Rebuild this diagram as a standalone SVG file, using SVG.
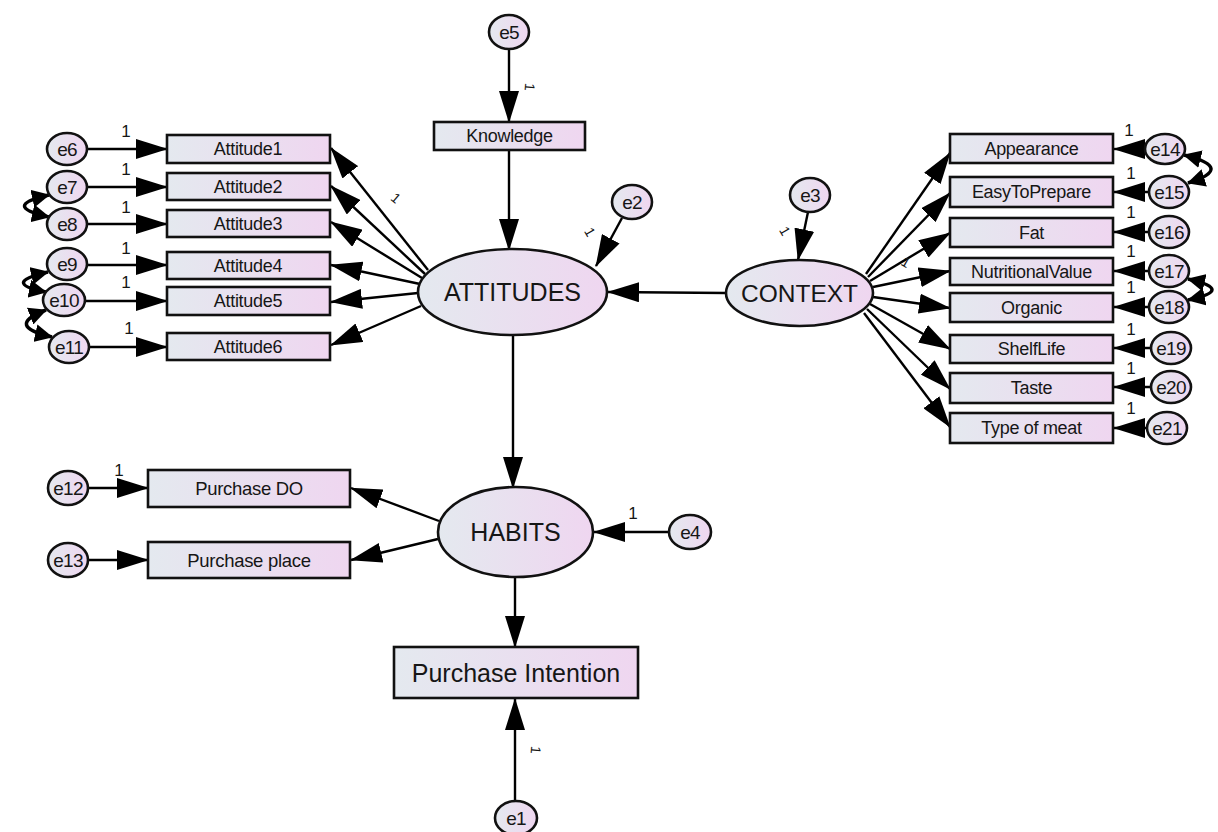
<svg xmlns="http://www.w3.org/2000/svg" width="1218" height="832" viewBox="0 0 1218 832">
<defs>
<linearGradient id="g" x1="0" y1="0" x2="1" y2="0">
<stop offset="0" stop-color="#e4e9ef"/>
<stop offset="1" stop-color="#efd6f0"/>
</linearGradient>
<marker id="ah" viewBox="0 0 32 20" refX="31" refY="10" markerWidth="32" markerHeight="20" markerUnits="userSpaceOnUse" orient="auto">
<path d="M0,0 L32,10 L0,20 Z" fill="#000"/>
</marker>
<marker id="ahs" viewBox="0 0 18 18" refX="17" refY="9" markerWidth="18" markerHeight="18" markerUnits="userSpaceOnUse" orient="auto-start-reverse">
<path d="M0,0 L18,9 L0,18 Z" fill="#000"/>
</marker>
</defs>
<style>
rect, ellipse { fill: url(#g); stroke: #111; stroke-width: 2.6; }
text { font-family: "Liberation Sans", Arial, sans-serif; fill: #161616; text-anchor: middle; dominant-baseline: central; }
.v { font-size: 18px; letter-spacing: -0.3px; }
.l { font-size: 25px; }
.e { font-size: 19px; letter-spacing: -0.8px; }
.one { font-size: 17px; }
.sm { font-size: 14px; }
.c line, .c path { stroke: #000; stroke-width: 2.4; fill: none; }
.c line { marker-end: url(#ah); }
.c path.cov { marker-start: url(#ahs); marker-end: url(#ahs); stroke-width: 3.5; }
</style>
<rect x="0" y="0" width="1218" height="832" fill="#fff" style="fill:#fff;stroke:none"/>

<g id="connectors" class="c">
<line x1="87" y1="149" x2="167" y2="149"/>
<line x1="87" y1="187" x2="167" y2="187"/>
<line x1="87" y1="224" x2="167" y2="224"/>
<line x1="87" y1="265" x2="167" y2="265"/>
<line x1="86" y1="301" x2="167" y2="301"/>
<line x1="89" y1="347" x2="167" y2="347"/>
<line x1="428" y1="270" x2="331" y2="148"/>
<line x1="425" y1="274" x2="331" y2="186"/>
<line x1="422" y1="278" x2="331" y2="222"/>
<line x1="420" y1="284" x2="331" y2="265"/>
<line x1="418" y1="293" x2="331" y2="302"/>
<line x1="421" y1="306" x2="331" y2="345"/>
<line x1="509" y1="50" x2="509" y2="122"/>
<line x1="509" y1="150" x2="509" y2="250"/>
<line x1="622" y1="218" x2="596" y2="266"/>
<line x1="726" y1="293" x2="608" y2="292"/>
<line x1="808" y1="212" x2="798" y2="260"/>
<line x1="866" y1="274" x2="950" y2="153"/>
<line x1="868" y1="277" x2="950" y2="193"/>
<line x1="870" y1="281" x2="950" y2="233"/>
<line x1="873" y1="287" x2="950" y2="271"/>
<line x1="873" y1="297" x2="950" y2="308"/>
<line x1="870" y1="304" x2="950" y2="349"/>
<line x1="867" y1="309" x2="950" y2="389"/>
<line x1="864" y1="313" x2="950" y2="427"/>
<line x1="1145" y1="149" x2="1114" y2="149"/>
<line x1="1149" y1="192" x2="1114" y2="192"/>
<line x1="1149" y1="232" x2="1114" y2="232"/>
<line x1="1149" y1="271" x2="1114" y2="271"/>
<line x1="1149" y1="307" x2="1114" y2="307"/>
<line x1="1151" y1="348" x2="1114" y2="348"/>
<line x1="1151" y1="387" x2="1114" y2="387"/>
<line x1="1147" y1="428" x2="1114" y2="428"/>
<line x1="513" y1="335" x2="513" y2="488"/>
<line x1="439" y1="521" x2="351" y2="488"/>
<line x1="438" y1="539" x2="351" y2="560"/>
<line x1="669" y1="532" x2="594" y2="532"/>
<line x1="88" y1="488" x2="148" y2="488"/>
<line x1="88" y1="560" x2="148" y2="560"/>
<line x1="515" y1="577" x2="515" y2="647"/>
<line x1="515" y1="802" x2="515" y2="699"/>
<path class="cov" d="M49,195 Q0,206 49,217"/>
<path class="cov" d="M48,272 Q0,283 46,292"/>
<path class="cov" d="M46,310 Q4,326 52,337"/>
<path class="cov" d="M1184,155 Q1236,168 1188,183"/>
<path class="cov" d="M1188,279 Q1236,290 1188,300"/>
</g>

<g id="attitude1"><rect x="167" y="135" width="163" height="28"/><text class="v" x="248" y="149">Attitude1</text></g>
<g id="attitude2"><rect x="167" y="173" width="163" height="27"/><text class="v" x="248" y="186.5">Attitude2</text></g>
<g id="attitude3"><rect x="167" y="210" width="163" height="27"/><text class="v" x="248" y="223.5">Attitude3</text></g>
<g id="attitude4"><rect x="167" y="252" width="163" height="27"/><text class="v" x="248" y="265.5">Attitude4</text></g>
<g id="attitude5"><rect x="167" y="287" width="163" height="28"/><text class="v" x="248" y="301">Attitude5</text></g>
<g id="attitude6"><rect x="167" y="333" width="163" height="27"/><text class="v" x="248" y="346.5">Attitude6</text></g>

<g id="e6"><ellipse cx="67" cy="149" rx="20" ry="16"/><text class="e" x="67" y="149">e6</text></g>
<g id="e7"><ellipse cx="67" cy="187" rx="20" ry="16"/><text class="e" x="67" y="187">e7</text></g>
<g id="e8"><ellipse cx="67" cy="224" rx="20" ry="16"/><text class="e" x="67" y="224">e8</text></g>
<g id="e9"><ellipse cx="67" cy="264" rx="20" ry="16"/><text class="e" x="67" y="264">e9</text></g>
<g id="e10"><ellipse cx="64" cy="300" rx="21" ry="16"/><text class="e" x="64" y="300">e10</text></g>
<g id="e11"><ellipse cx="69" cy="347" rx="20" ry="16"/><text class="e" x="69" y="347">e11</text></g>

<g id="labels-left">
<text class="one" x="126" y="131">1</text>
<text class="one" x="126" y="169">1</text>
<text class="one" x="126" y="207">1</text>
<text class="one" x="126" y="248">1</text>
<text class="one" x="126" y="282">1</text>
<text class="one" x="129" y="328">1</text>
<text class="sm" x="396" y="198" transform="rotate(40 396 198)">1</text>
</g>

<g id="e5"><ellipse cx="509" cy="32" rx="20" ry="17"/><text class="e" x="509" y="32">e5</text></g>
<text class="sm" x="530" y="87" transform="rotate(95 530 87)">1</text>
<g id="knowledge"><rect x="434" y="122" width="151" height="28"/><text class="v" x="509.5" y="136">Knowledge</text></g>

<g id="attitudes"><ellipse cx="512.5" cy="292" rx="94.5" ry="43"/><text class="l" x="512.5" y="292">ATTITUDES</text></g>
<g id="e2"><ellipse cx="632" cy="202" rx="20" ry="17"/><text class="e" x="632" y="202">e2</text></g>
<text class="sm" x="590" y="232" transform="rotate(60 590 232)">1</text>

<g id="context"><ellipse cx="799.5" cy="293" rx="73.5" ry="33"/><text class="l" x="799.5" y="293" style="font-size:24.5px">CONTEXT</text></g>
<g id="e3"><ellipse cx="810" cy="195" rx="20" ry="17"/><text class="e" x="810" y="195">e3</text></g>
<text class="sm" x="785" y="231" transform="rotate(60 785 231)">1</text>
<text class="sm" x="906" y="262" transform="rotate(30 906 262)">1</text>

<g id="appearance"><rect x="950" y="134" width="163" height="29"/><text class="v" x="1031.5" y="148.5">Appearance</text></g>
<g id="easytoprepare"><rect x="950" y="177" width="163" height="30"/><text class="v" x="1031.5" y="192">EasyToPrepare</text></g>
<g id="fat"><rect x="950" y="218" width="163" height="29"/><text class="v" x="1031.5" y="232.5">Fat</text></g>
<g id="nutritionalvalue"><rect x="950" y="258" width="163" height="27"/><text class="v" x="1031.5" y="271.5">NutritionalValue</text></g>
<g id="organic"><rect x="950" y="293" width="163" height="29"/><text class="v" x="1031.5" y="307.5">Organic</text></g>
<g id="shelflife"><rect x="950" y="335" width="163" height="28"/><text class="v" x="1031.5" y="349">ShelfLife</text></g>
<g id="taste"><rect x="950" y="373" width="163" height="30"/><text class="v" x="1031.5" y="388">Taste</text></g>
<g id="typeofmeat"><rect x="950" y="413" width="163" height="30"/><text class="v" x="1031.5" y="428">Type of meat</text></g>

<g id="e14"><ellipse cx="1165" cy="149" rx="20" ry="15"/><text class="e" x="1165" y="149">e14</text></g>
<g id="e15"><ellipse cx="1169" cy="192" rx="20" ry="16"/><text class="e" x="1169" y="192">e15</text></g>
<g id="e16"><ellipse cx="1169" cy="232" rx="20" ry="16"/><text class="e" x="1169" y="232">e16</text></g>
<g id="e17"><ellipse cx="1169" cy="271" rx="20" ry="16"/><text class="e" x="1169" y="271">e17</text></g>
<g id="e18"><ellipse cx="1169" cy="307" rx="20" ry="16"/><text class="e" x="1169" y="307">e18</text></g>
<g id="e19"><ellipse cx="1171" cy="348" rx="20" ry="16"/><text class="e" x="1171" y="348">e19</text></g>
<g id="e20"><ellipse cx="1171" cy="387" rx="20" ry="16"/><text class="e" x="1171" y="387">e20</text></g>
<g id="e21"><ellipse cx="1167" cy="428" rx="20" ry="16"/><text class="e" x="1167" y="428">e21</text></g>

<g id="labels-right">
<text class="one" x="1129" y="130">1</text>
<text class="one" x="1131" y="173">1</text>
<text class="one" x="1131" y="212">1</text>
<text class="one" x="1131" y="251">1</text>
<text class="one" x="1131" y="287">1</text>
<text class="one" x="1131" y="329">1</text>
<text class="one" x="1131" y="368">1</text>
<text class="one" x="1131" y="408">1</text>
</g>

<g id="habits"><ellipse cx="515.5" cy="532" rx="77.5" ry="45"/><text class="l" x="515.5" y="532">HABITS</text></g>
<g id="e4"><ellipse cx="690" cy="532" rx="21" ry="17"/><text class="e" x="690" y="532">e4</text></g>
<text class="one" x="633" y="513">1</text>

<g id="purchasedo"><rect x="148" y="470" width="202" height="37"/><text class="v" x="249" y="488.5" style="font-size:18.5px">Purchase DO</text></g>
<g id="purchaseplace"><rect x="148" y="542" width="202" height="36"/><text class="v" x="249" y="560" style="font-size:18.5px">Purchase place</text></g>
<g id="e12"><ellipse cx="68" cy="488" rx="20" ry="17"/><text class="e" x="68" y="488">e12</text></g>
<g id="e13"><ellipse cx="68" cy="560" rx="20" ry="17"/><text class="e" x="68" y="560">e13</text></g>
<text class="one" x="119" y="470">1</text>

<g id="purchaseintention"><rect x="394" y="647" width="244" height="51"/><text class="l" x="516" y="672.5">Purchase Intention</text></g>
<g id="e1"><ellipse cx="516" cy="818" rx="21" ry="17"/><text class="e" x="516" y="818">e1</text></g>
<text class="sm" x="536" y="750" transform="rotate(95 536 750)">1</text>
</svg>
